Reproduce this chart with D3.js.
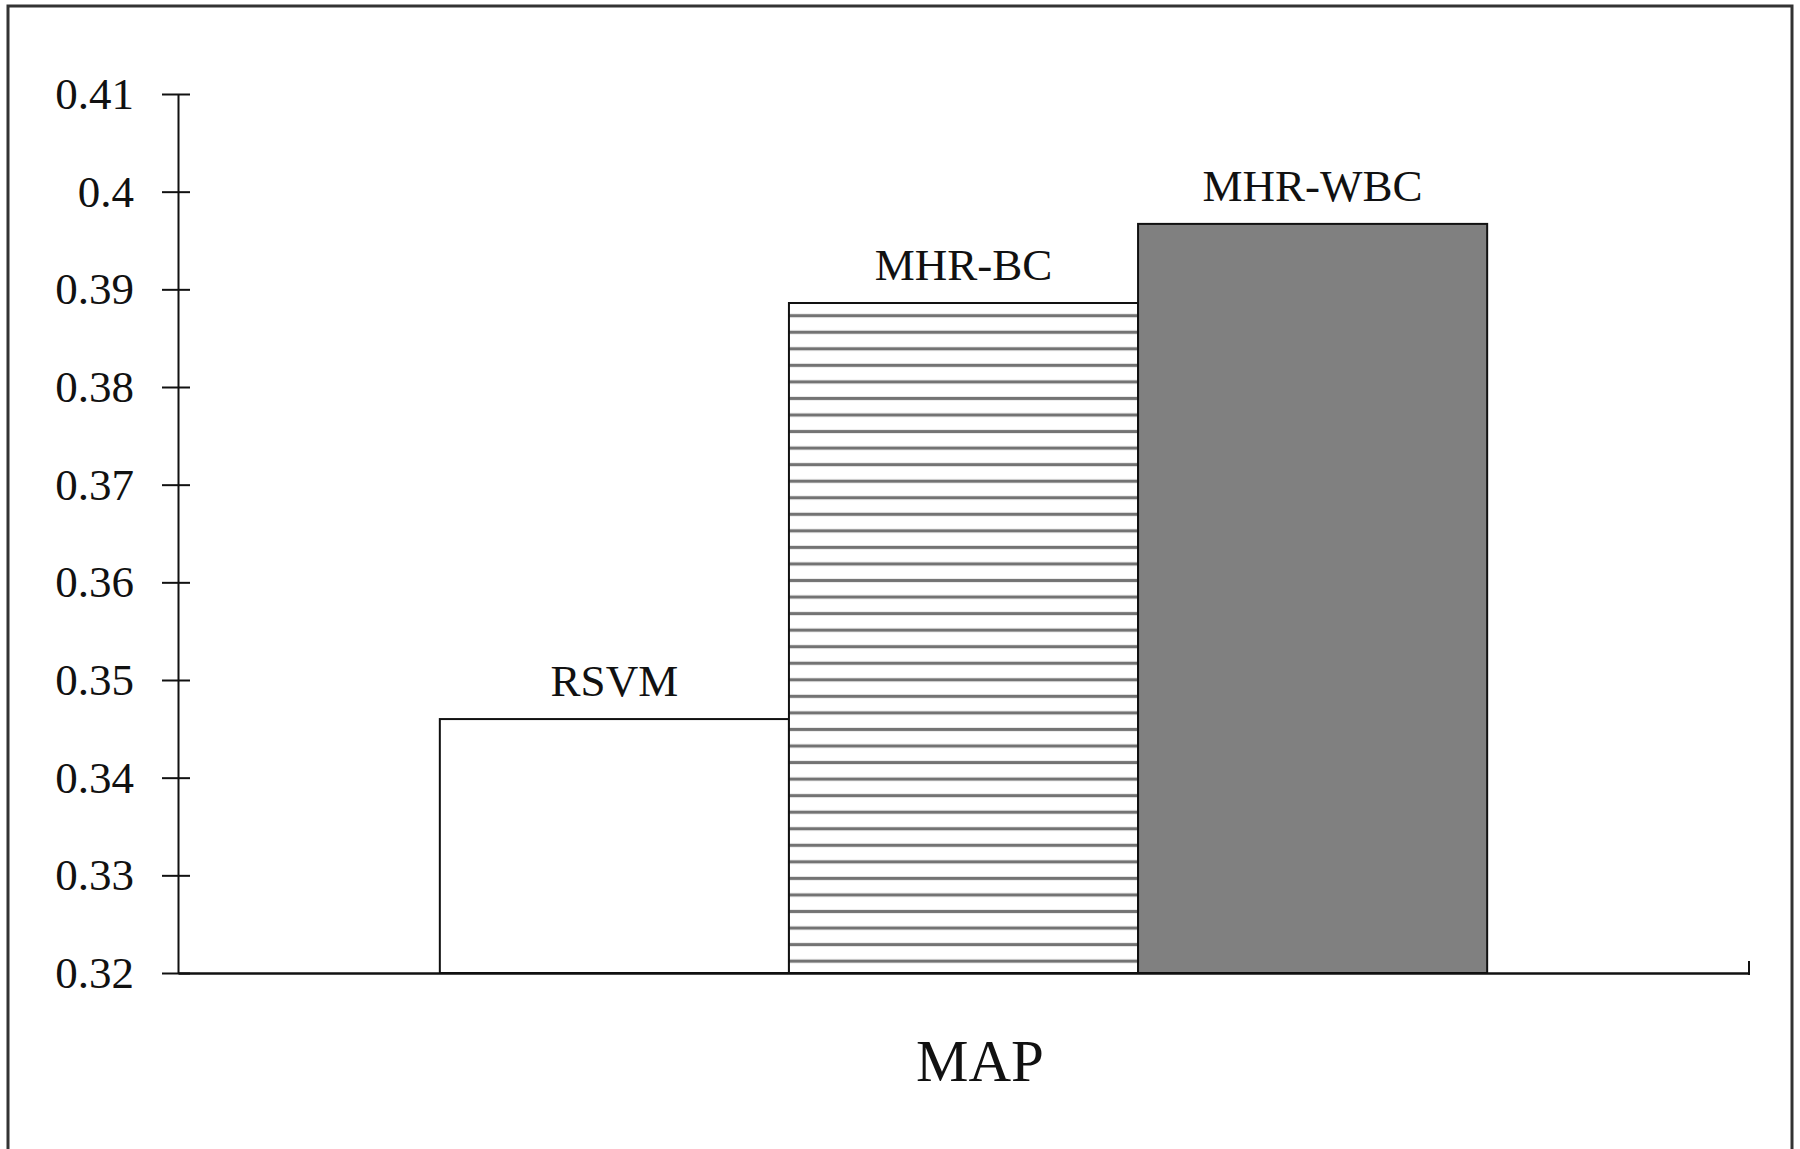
<!DOCTYPE html>
<html>
<head>
<meta charset="utf-8">
<script src="https://cdn.jsdelivr.net/npm/d3@7"></script>
<style>
  html, body { margin: 0; padding: 0; background: #fff; }
  svg { display: block; }
  text { font-family: "Liberation Serif", "Times New Roman", serif; fill: #111; }
</style>
</head>
<body>
<svg id="chart" width="1800" height="1149"></svg>
<script>
const categories = ["RSVM", "MHR-BC", "MHR-WBC"];
const values = [0.346, 0.3886, 0.3967];
const yTicks = [0.32, 0.33, 0.34, 0.35, 0.36, 0.37, 0.38, 0.39, 0.4, 0.41];
const yTickLabels = ["0.32", "0.33", "0.34", "0.35", "0.36", "0.37", "0.38", "0.39", "0.4", "0.41"];
const xTitle = "MAP";

(function () {
const svg = d3.select("#chart");

// frame
svg.append("rect")
  .attr("x", 8).attr("y", 6).attr("width", 1784).attr("height", 1200)
  .attr("fill", "none").attr("stroke", "#333").attr("stroke-width", 3);

const mLeft = 178, mRight = 1749, mTop = 94, mBottom = 973;

const x = d3.scaleBand().domain(categories).range([mLeft, mRight])
  .paddingInner(0).paddingOuter(0.75);
const y = d3.scaleLinear().domain([0.32, 0.41]).range([mBottom, mTop]);

// hatch pattern
const defs = svg.append("defs");
const pat = defs.append("pattern")
  .attr("id", "hatch").attr("patternUnits", "userSpaceOnUse")
  .attr("x", 0).attr("y", 315.7 - 8.275)
  .attr("width", 20).attr("height", 16.55);
pat.append("rect").attr("width", 20).attr("height", 16.55).attr("fill", "#fff");
pat.append("line").attr("x1", 0).attr("x2", 20)
  .attr("y1", 8.275).attr("y2", 8.275)
  .attr("stroke", "#737373").attr("stroke-width", 3.2);

const fills = ["#ffffff", "url(#hatch)", "#808080"];

// bars
svg.selectAll("rect.bar").data(categories).join("rect")
  .attr("class", "bar")
  .attr("x", d => x(d))
  .attr("y", (d, i) => y(values[i]))
  .attr("width", x.bandwidth())
  .attr("height", (d, i) => y(0.32) - y(values[i]))
  .attr("fill", (d, i) => fills[i])
  .attr("stroke", "#111").attr("stroke-width", 2);

// bar labels
svg.selectAll("text.blabel").data(categories).join("text")
  .attr("class", "blabel")
  .attr("x", d => x(d) + x.bandwidth() / 2)
  .attr("y", (d, i) => y(values[i]) - 23)
  .attr("text-anchor", "middle")
  .attr("font-size", 45)
  .text(d => d);

// y axis
const yAxis = d3.axisLeft(y).tickValues(yTicks)
  .tickFormat((d, i) => yTickLabels[i])
  .tickSizeInner(16).tickSizeOuter(0).tickPadding(28);
const gy = svg.append("g").attr("transform", `translate(${mLeft},0)`).call(yAxis);
gy.select(".domain").attr("stroke", "#111").attr("stroke-width", 2);
gy.selectAll(".tick line").attr("x1", 12).attr("stroke", "#111").attr("stroke-width", 2);
gy.selectAll(".tick text").attr("font-size", 45)
  .style("font-family", '"Liberation Serif", "Times New Roman", serif').attr("fill", "#111");

// x baseline
const xAxis = d3.axisBottom(x).tickValues([]).tickSizeOuter(0);
const gx = svg.append("g").attr("transform", `translate(0,${mBottom})`).call(xAxis);
gx.select(".domain").attr("stroke", "#111").attr("stroke-width", 2.5);
gx.append("line").attr("x1", mRight).attr("x2", mRight).attr("y1", -12).attr("y2", 2)
  .attr("stroke", "#111").attr("stroke-width", 2);

// x title
svg.append("text")
  .attr("x", 980).attr("y", 1081)
  .attr("text-anchor", "middle").attr("font-size", 59)
  .text(xTitle);
})();
</script>
</body>
</html>
